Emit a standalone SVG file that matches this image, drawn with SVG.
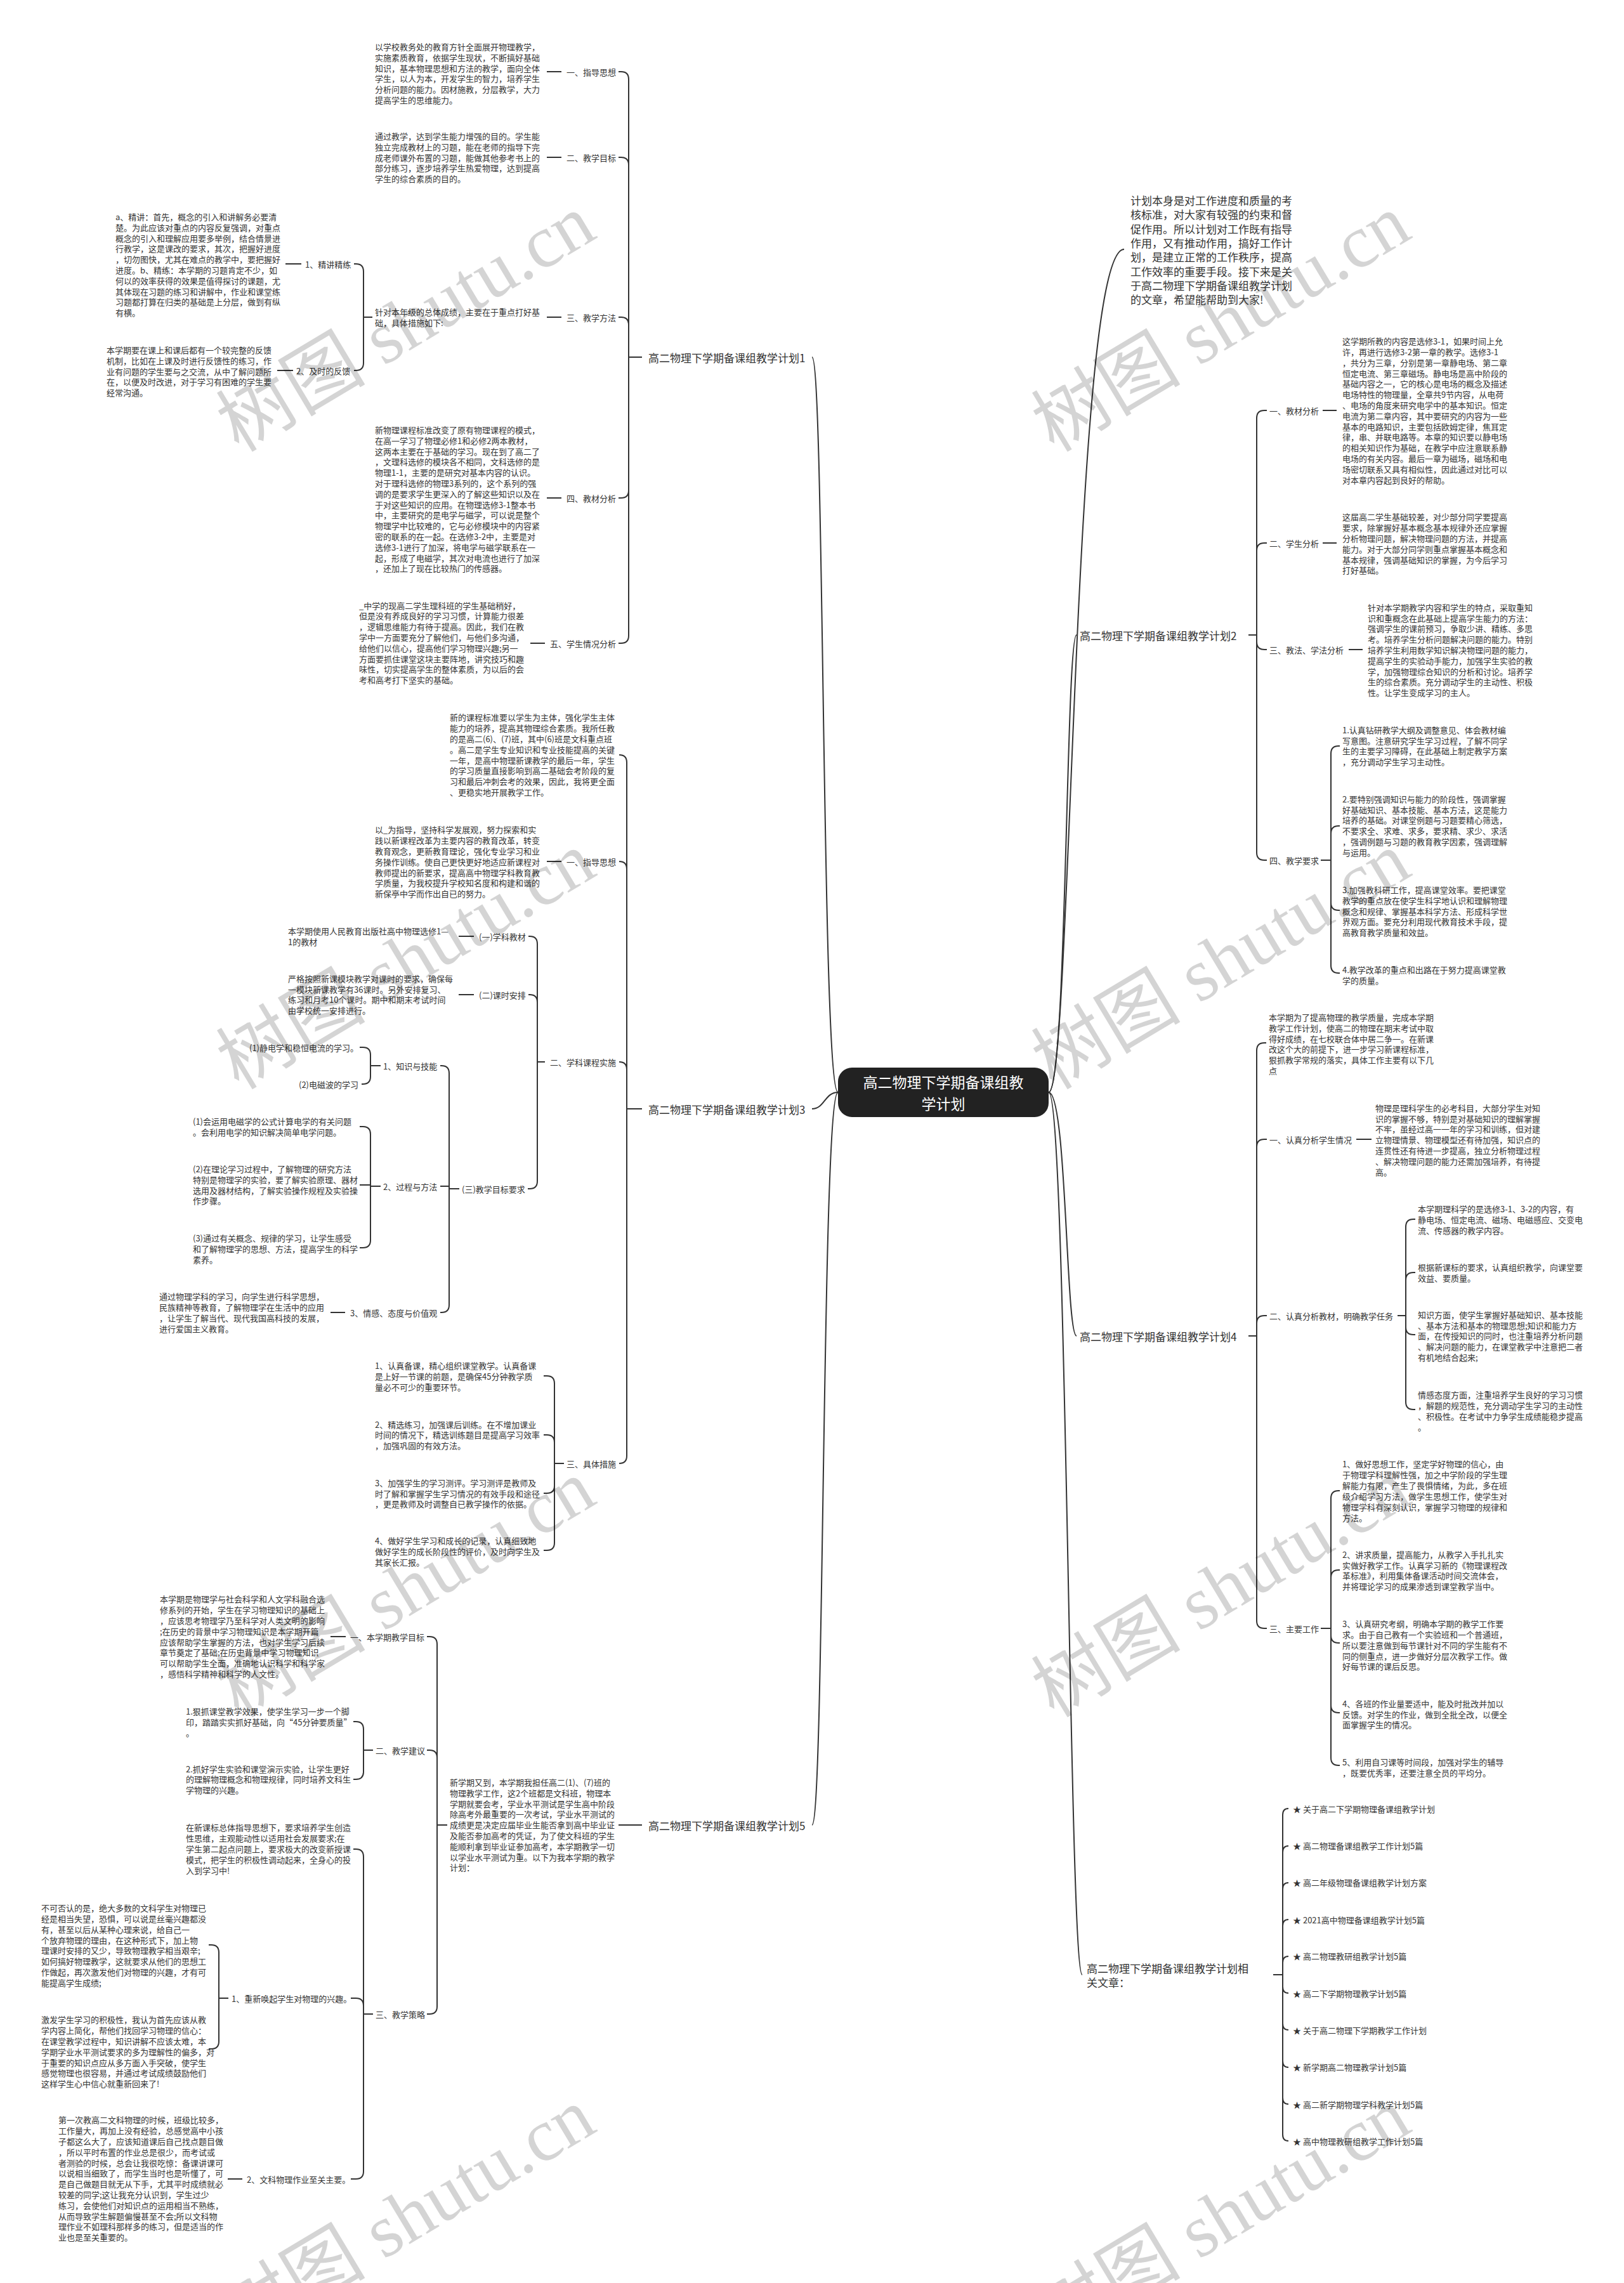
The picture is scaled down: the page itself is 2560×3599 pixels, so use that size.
<svg xmlns="http://www.w3.org/2000/svg" width="2560" height="3599" viewBox="0 0 2560 3599">
<style>
text{font-family:"Noto Sans CJK SC","Noto Sans",sans-serif;font-size:13px;fill:#333;dominant-baseline:central}
.l1{font-size:17px}
.ct{font-size:23px;fill:#fff;text-anchor:middle}
.ln{fill:none;stroke:#333;stroke-width:2}
.wm text{font-family:"Liberation Serif","Noto Sans CJK SC",serif;font-size:118px;fill:#000;fill-opacity:.17;text-anchor:middle}
</style>
<rect width="2560" height="3599" fill="#fff"/>
<g id="connectors" class="ln">
<path d="M1321,1722 C1295,1722 1300,563 1280,563"/>
<path d="M1321,1722 C1300,1722 1300,1748 1280,1748"/>
<path d="M1321,1722 C1295,1722 1300,2877 1280,2877"/>
<path d="M1653,1722 C1690,1722 1690,393 1772,393"/>
<path d="M1653,1722 C1682,1722 1680,1001 1697,1001"/>
<path d="M1653,1722 C1682,1722 1680,2106 1697,2106"/>
<path d="M1653,1722 C1682,1722 1685,3113 1706,3113"/>
<path d="M991,563 H1012"/>
<path d="M991,563 V125 Q991,113 979,113 H975"/>
<path d="M991,563 V260 Q991,248 979,248 H975"/>
<path d="M991,563 V512 Q991,500 979,500 H975"/>
<path d="M991,563 V773 Q991,785 979,785 H975"/>
<path d="M991,563 V1002 Q991,1014 979,1014 H975"/>
<path d="M862,113 H885 M862,248 H885 M862,500 H885 M862,785 H885 M836,1014 H859"/>
<path d="M587,500 H573 M573,500 V428 Q573,416 561,416 H558 M573,500 V572 Q573,584 561,584 H558"/>
<path d="M450,416 H475 M437,584 H462"/>
<path d="M988,1748 H1012"/>
<path d="M988,1748 V1202 Q988,1190 976,1190"/>
<path d="M988,1748 V1370 Q988,1358 976,1358"/>
<path d="M988,1748 V1686 Q988,1674 976,1674"/>
<path d="M988,1748 V2295 Q988,2307 976,2307"/>
<path d="M862,1358 H885"/>
<path d="M859,1674 H847 M847,1674 V1488 Q847,1476 835,1476 H833 M847,1674 V1580 Q847,1568 835,1568 H833 M847,1674 V1862 Q847,1874 835,1874 H832"/>
<path d="M723,1476 H747 M723,1568 H747"/>
<path d="M724,1874 H708 M708,1874 V1692 Q708,1680 696,1680 H694 M708,1870 H694 M708,1874 V2057 Q708,2069 696,2069 H694"/>
<path d="M600,1680 H584 M584,1680 V1663 Q584,1651 572,1651 H567 M584,1680 V1697 Q584,1709 572,1709 H570"/>
<path d="M600,1870 H584 M584,1870 V1788 Q584,1776 572,1776 H567 M584,1868 H567 M584,1870 V1955 Q584,1967 572,1967 H567"/>
<path d="M521,2069 H544"/>
<path d="M889,2307 H874 M874,2307 V2181 Q874,2169 862,2169 H857 M874,2307 V2274 Q874,2262 862,2262 H857 M874,2307 V2342 Q874,2354 862,2354 H857 M874,2307 V2432 Q874,2444 862,2444 H857"/>
<path d="M975,2877 H1012"/>
<path d="M705,2877 H689 M689,2877 V2592 Q689,2580 677,2580 H673 M689,2877 V2771 Q689,2759 677,2759 H673 M689,2877 V3163 Q689,3175 677,3175 H673"/>
<path d="M521,2580 H545"/>
<path d="M588,2759 H573 M573,2759 V2726 Q573,2714 561,2714 H557 M573,2759 V2793 Q573,2805 561,2805 H557"/>
<path d="M588,3175 H573 M573,3175 V2927 Q573,2915 561,2915 H557 M573,3175 V3162 Q573,3150 561,3150 H553 M573,3175 V3423 Q573,3435 561,3435 H553"/>
<path d="M360,3150 H345 M345,3150 V3078 Q345,3066 333,3066 H329 M345,3150 V3218 Q345,3230 333,3230 H329"/>
<path d="M359,3435 H382"/>
<path d="M1968,1001 H1981"/>
<path d="M1981,1001 V659 Q1981,647 1993,647 H1997"/>
<path d="M1981,1001 V868 Q1981,856 1993,856 H1997"/>
<path d="M1981,1001 V1012 Q1981,1024 1993,1024 H1997"/>
<path d="M1981,1001 V1344 Q1981,1356 1993,1356 H1997"/>
<path d="M2085,647 H2107 M2085,856 H2107 M2126,1024 H2148"/>
<path d="M2082,1356 H2098 M2098,1356 V1188 Q2098,1176 2110,1176 H2112 M2098,1356 V1314 Q2098,1302 2110,1302 H2112 M2098,1356 V1423 Q2098,1435 2110,1435 H2112 M2098,1356 V1522 Q2098,1534 2110,1534 H2112"/>
<path d="M1968,2106 H1981"/>
<path d="M1981,2106 V1656 Q1981,1644 1993,1644 H1996"/>
<path d="M1981,2106 V1808 Q1981,1796 1993,1796 H1997"/>
<path d="M1981,2106 V2086 Q1981,2074 1993,2074 H1997"/>
<path d="M1981,2106 V2555 Q1981,2567 1993,2567 H1997"/>
<path d="M2138,1796 H2162"/>
<path d="M2203,2074 H2216 M2216,2074 V1934 Q2216,1922 2228,1922 H2231 M2216,2074 V2018 Q2216,2006 2228,2006 H2231 M2216,2074 V2092 Q2216,2104 2228,2104 H2231 M2216,2074 V2210 Q2216,2222 2228,2222 H2231"/>
<path d="M2082,2567 H2098 M2098,2567 V2362 Q2098,2350 2110,2350 H2112 M2098,2567 V2487 Q2098,2475 2110,2475 H2112 M2098,2567 V2578 Q2098,2590 2110,2590 H2112 M2098,2567 V2688 Q2098,2700 2110,2700 H2112 M2098,2567 V2771 Q2098,2783 2110,2783 H2112"/>
<path d="M2007,3113 H2022"/>
<path d="M2022,3113 V2861 Q2022,2851 2031,2851 M2022,3113 V2920 Q2022,2910 2031,2910 M2022,3113 V2978 Q2022,2968 2031,2968 M2022,3113 V3036 Q2022,3026 2031,3026 M2022,3113 V3094 Q2022,3084 2031,3084 M2022,3113 V3132 Q2022,3142 2031,3142 M2022,3113 V3190 Q2022,3200 2031,3200 M2022,3113 V3249 Q2022,3259 2031,3259 M2022,3113 V3307 Q2022,3317 2031,3317 M2022,3113 V3365 Q2022,3375 2031,3375"/>
</g>
<g id="center"><rect x="1321" y="1683" width="332" height="78" rx="22" fill="#222"/>
<text class="ct" x="1487" y="1705">高二物理下学期备课组教</text><text class="ct" x="1487" y="1739">学计划</text></g>
<g id="plan1"><text class="l1" x="1022" y="563">高二物理下学期备课组教学计划1</text></g>
<g id="p1-1"><text x="893" y="113">一、指导思想</text></g>
<g id="p1-1t"><text x="591" y="73"><tspan x="591">以学校教务处的教育方针全面展开物理教学，</tspan><tspan x="591" dy="16.8">实施素质教育，依据学生现状，不断搞好基础</tspan><tspan x="591" dy="16.8">知识，基本物理思想和方法的教学，面向全体</tspan><tspan x="591" dy="16.8">学生，以人为本，开发学生的智力，培养学生</tspan><tspan x="591" dy="16.8">分析问题的能力。因材施教，分层教学，大力</tspan><tspan x="591" dy="16.8">提高学生的思维能力。</tspan></text></g>
<g id="p1-2"><text x="893" y="248">二、教学目标</text></g>
<g id="p1-2t"><text x="591" y="214"><tspan x="591">通过教学，达到学生能力增强的目的。学生能</tspan><tspan x="591" dy="16.8">独立完成教材上的习题，能在老师的指导下完</tspan><tspan x="591" dy="16.8">成老师课外布置的习题，能做其他参考书上的</tspan><tspan x="591" dy="16.8">部分练习，逐步培养学生热爱物理，达到提高</tspan><tspan x="591" dy="16.8">学生的综合素质的目的。</tspan></text></g>
<g id="p1-3"><text x="893" y="500">三、教学方法</text></g>
<g id="p1-3t"><text x="591" y="491"><tspan x="591">针对本年级的总体成绩，主要在于重点打好基</tspan><tspan x="591" dy="16.8">础，具体措施如下:</tspan></text></g>
<g id="p1-3a"><text x="481" y="416">1、精讲精练</text></g>
<g id="p1-3at"><text x="182" y="341"><tspan x="182">a、精讲：首先，概念的引入和讲解务必要清</tspan><tspan x="182" dy="16.8">楚。为此应该对重点的内容反复强调，对重点</tspan><tspan x="182" dy="16.8">概念的引入和理解应用要多举例，结合情景进</tspan><tspan x="182" dy="16.8">行教学，这是课改的要求，其次，把握好进度</tspan><tspan x="182" dy="16.8">，切勿图快，尤其在难点的教学中，要把握好</tspan><tspan x="182" dy="16.8">进度。b、精练：本学期的习题肯定不少，如</tspan><tspan x="182" dy="16.8">何以的效率获得的效果是值得探讨的课题，尤</tspan><tspan x="182" dy="16.8">其体现在习题的练习和讲解中，作业和课堂练</tspan><tspan x="182" dy="16.8">习题都打算在归类的基础是上分层，做到有纵</tspan><tspan x="182" dy="16.8">有横。</tspan></text></g>
<g id="p1-3b"><text x="467" y="584">2、及时的反馈</text></g>
<g id="p1-3bt"><text x="168" y="551"><tspan x="168">本学期要在课上和课后都有一个较完整的反馈</tspan><tspan x="168" dy="16.8">机制，比如在上课及时进行反馈性的练习，作</tspan><tspan x="168" dy="16.8">业有问题的学生要与之交流，从中了解问题所</tspan><tspan x="168" dy="16.8">在，以便及时改进，对于学习有困难的学生要</tspan><tspan x="168" dy="16.8">经常沟通。</tspan></text></g>
<g id="p1-4"><text x="893" y="785">四、教材分析</text></g>
<g id="p1-4t"><text x="591" y="677"><tspan x="591">新物理课程标准改变了原有物理课程的模式，</tspan><tspan x="591" dy="16.8">在高一学习了物理必修1和必修2两本教材，</tspan><tspan x="591" dy="16.8">这两本主要在于基础的学习。现在到了高二了</tspan><tspan x="591" dy="16.8">，文理科选修的模块各不相同，文科选修的是</tspan><tspan x="591" dy="16.8">物理1-1，主要的是研究对基本内容的认识。</tspan><tspan x="591" dy="16.8">对于理科选修的物理3系列的，这个系列的强</tspan><tspan x="591" dy="16.8">调的是要求学生更深入的了解这些知识以及在</tspan><tspan x="591" dy="16.8">于对这些知识的应用。在物理选修3-1整本书</tspan><tspan x="591" dy="16.8">中，主要研究的是电学与磁学，可以说是整个</tspan><tspan x="591" dy="16.8">物理学中比较难的，它与必修模块中的内容紧</tspan><tspan x="591" dy="16.8">密的联系的在一起。在选修3-2中，主要是对</tspan><tspan x="591" dy="16.8">选修3-1进行了加深，将电学与磁学联系在一</tspan><tspan x="591" dy="16.8">起，形成了电磁学，其次对电流也进行了加深</tspan><tspan x="591" dy="16.8">，还加上了现在比较热门的传感器。</tspan></text></g>
<g id="p1-5"><text x="867" y="1014">五、学生情况分析</text></g>
<g id="p1-5t"><text x="566" y="953.5"><tspan x="566">_中学的现高二学生理科班的学生基础稍好，</tspan><tspan x="566" dy="16.8">但是没有养成良好的学习习惯，计算能力很差</tspan><tspan x="566" dy="16.8">，逻辑思维能力有待于提高。因此，我们在教</tspan><tspan x="566" dy="16.8">学中一方面要充分了解他们，与他们多沟通，</tspan><tspan x="566" dy="16.8">给他们以信心，提高他们学习物理兴趣;另一</tspan><tspan x="566" dy="16.8">方面要抓住课堂这块主要阵地，讲究技巧和趣</tspan><tspan x="566" dy="16.8">味性，切实提高学生的整体素质，为以后的会</tspan><tspan x="566" dy="16.8">考和高考打下坚实的基础。</tspan></text></g>
<g id="plan3"><text class="l1" x="1022" y="1748">高二物理下学期备课组教学计划3</text></g>
<g id="p3-0"><text x="709" y="1130.4"><tspan x="709">新的课程标准要以学生为主体，强化学生主体</tspan><tspan x="709" dy="16.8">能力的培养，提高其物理综合素质。我所任教</tspan><tspan x="709" dy="16.8">的是高二(6)、(7)班，其中(6)班是文科重点班</tspan><tspan x="709" dy="16.8">。高二是学生专业知识和专业技能提高的关键</tspan><tspan x="709" dy="16.8">一年，是高中物理新课教学的最后一年，学生</tspan><tspan x="709" dy="16.8">的学习质量直接影响到高二基础会考阶段的复</tspan><tspan x="709" dy="16.8">习和最后冲刺会考的效果，因此，我将更全面</tspan><tspan x="709" dy="16.8">、更稳实地开展教学工作。</tspan></text></g>
<g id="p3-1"><text x="893" y="1358">一、指导思想</text></g>
<g id="p3-1t"><text x="591" y="1307.3"><tspan x="591">以_为指导，坚持科学发展观，努力探索和实</tspan><tspan x="591" dy="16.8">践以新课程改革为主要内容的教育改革，转变</tspan><tspan x="591" dy="16.8">教育观念，更新教育理论，强化专业学习和业</tspan><tspan x="591" dy="16.8">务操作训练。使自己更快更好地适应新课程对</tspan><tspan x="591" dy="16.8">教师提出的新要求，提高高中物理学科教育教</tspan><tspan x="591" dy="16.8">学质量，为我校提升学校知名度和构建和谐的</tspan><tspan x="591" dy="16.8">新保亭中学而作出自已的努力。</tspan></text></g>
<g id="p3-2"><text x="867" y="1674">二、学科课程实施</text></g>
<g id="p3-2a"><text x="755" y="1476">(一)学科教材</text></g>
<g id="p3-2at"><text x="454" y="1467.2"><tspan x="454">本学期使用人民教育出版社高中物理选修1—</tspan><tspan x="454" dy="16.8">1的教材</tspan></text></g>
<g id="p3-2b"><text x="755" y="1568">(二)课时安排</text></g>
<g id="p3-2bt"><text x="454" y="1541.7"><tspan x="454">严格按照新课模块教学对课时的要求，确保每</tspan><tspan x="454" dy="16.8">一模块新课教学有36课时。另外安排复习、</tspan><tspan x="454" dy="16.8">练习和月考10个课时。期中和期末考试时间</tspan><tspan x="454" dy="16.8">由学校统一安排进行。</tspan></text></g>
<g id="p3-2c"><text x="728" y="1874">(三)教学目标要求</text></g>
<g id="p3-2c1"><text x="604" y="1680">1、知识与技能</text></g>
<g id="p3-2c1a"><text x="393" y="1651.5">(1)静电学和稳恒电流的学习。</text></g>
<g id="p3-2c1b"><text x="471" y="1709">(2)电磁波的学习</text></g>
<g id="p3-2c2"><text x="604" y="1870">2、过程与方法</text></g>
<g id="p3-2c2a"><text x="304" y="1767.4"><tspan x="304">(1)会运用电磁学的公式计算电学的有关问题</tspan><tspan x="304" dy="16.8">。会利用电学的知识解决简单电学问题。</tspan></text></g>
<g id="p3-2c2b"><text x="304" y="1842"><tspan x="304">(2)在理论学习过程中，了解物理的研究方法</tspan><tspan x="304" dy="16.8">特别是物理学的实验，要了解实验原理、器材</tspan><tspan x="304" dy="16.8">选用及器材结构，了解实验操作规程及实验操</tspan><tspan x="304" dy="16.8">作步骤。</tspan></text></g>
<g id="p3-2c2c"><text x="304" y="1951"><tspan x="304">(3)通过有关概念、规律的学习，让学生感受</tspan><tspan x="304" dy="16.8">和了解物理学的思想、方法，提高学生的科学</tspan><tspan x="304" dy="16.8">素养。</tspan></text></g>
<g id="p3-2c3"><text x="552" y="2069">3、情感、态度与价值观</text></g>
<g id="p3-2c3t"><text x="251" y="2043.3"><tspan x="251">通过物理学科的学习，向学生进行科学思想，</tspan><tspan x="251" dy="16.8">民族精神等教育，了解物理学在生活中的应用</tspan><tspan x="251" dy="16.8">，让学生了解当代、现代我国高科技的发展，</tspan><tspan x="251" dy="16.8">进行爱国主义教育。</tspan></text></g>
<g id="p3-3"><text x="893" y="2307">三、具体措施</text></g>
<g id="p3-3a"><text x="591" y="2152.4"><tspan x="591">1、认真备课，精心组织课堂教学。认真备课</tspan><tspan x="591" dy="16.8">是上好一节课的前题，是确保45分钟教学质</tspan><tspan x="591" dy="16.8">量必不可少的重要环节。</tspan></text></g>
<g id="p3-3b"><text x="591" y="2244.5"><tspan x="591">2、精选练习，加强课后训练。在不增加课业</tspan><tspan x="591" dy="16.8">时间的情况下，精选训练题目是提高学习效率</tspan><tspan x="591" dy="16.8">，加强巩固的有效方法。</tspan></text></g>
<g id="p3-3c"><text x="591" y="2336.7"><tspan x="591">3、加强学生的学习测评。学习测评是教师及</tspan><tspan x="591" dy="16.8">时了解和掌握学生学习情况的有效手段和途径</tspan><tspan x="591" dy="16.8">，更是教师及时调整自已教学操作的依据。</tspan></text></g>
<g id="p3-3d"><text x="591" y="2428.2"><tspan x="591">4、做好学生学习和成长的记录，认真细致地</tspan><tspan x="591" dy="16.8">做好学生的成长阶段性的评价，及时向学生及</tspan><tspan x="591" dy="16.8">其家长汇报。</tspan></text></g>
<g id="plan5"><text class="l1" x="1022" y="2877">高二物理下学期备课组教学计划5</text></g>
<g id="p5-0"><text x="709" y="2809"><tspan x="709">新学期又到，本学期我担任高二(1)、(7)班的</tspan><tspan x="709" dy="16.8">物理教学工作，这2个班都是文科班，物理本</tspan><tspan x="709" dy="16.8">学期就要会考，学业水平测试是学生高中阶段</tspan><tspan x="709" dy="16.8">除高考外最重要的一次考试，学业水平测试的</tspan><tspan x="709" dy="16.8">成绩更是决定应届毕业生能否拿到高中毕业证</tspan><tspan x="709" dy="16.8">及能否参加高考的凭证，为了使文科班的学生</tspan><tspan x="709" dy="16.8">能顺利拿到毕业证参加高考，本学期教学一切</tspan><tspan x="709" dy="16.8">以学业水平测试为重。以下为我本学期的教学</tspan><tspan x="709" dy="16.8">计划：</tspan></text></g>
<g id="p5-1"><text x="552" y="2580">一、本学期教学目标</text></g>
<g id="p5-1t"><text x="252" y="2520.4"><tspan x="252">本学期是物理学与社会科学和人文学科融合选</tspan><tspan x="252" dy="16.8">修系列的开始，学生在学习物理知识的基础上</tspan><tspan x="252" dy="16.8">，应该思考物理学乃至科学对人类文明的影响</tspan><tspan x="252" dy="16.8">;在历史的背景中学习物理知识是本学期开篇</tspan><tspan x="252" dy="16.8">应该帮助学生掌握的方法，也对学生学习后续</tspan><tspan x="252" dy="16.8">章节奠定了基础;在历史背景中学习物理知识</tspan><tspan x="252" dy="16.8">可以帮助学生全面，准确地认识科学和科学家</tspan><tspan x="252" dy="16.8">，感悟科学精神和科学的人文性。</tspan></text></g>
<g id="p5-2"><text x="592" y="2759">二、教学建议</text></g>
<g id="p5-2a"><text x="293" y="2697.2"><tspan x="293">1.狠抓课堂教学效果，使学生学习一步一个脚</tspan><tspan x="293" dy="16.8">印，踏踏实实抓好基础，向“45分钟要质量”</tspan><tspan x="293" dy="16.8">。</tspan></text></g>
<g id="p5-2b"><text x="293" y="2787.5"><tspan x="293">2.抓好学生实验和课堂演示实验，让学生更好</tspan><tspan x="293" dy="16.8">的理解物理概念和物理规律，同时培养文科生</tspan><tspan x="293" dy="16.8">学物理的兴趣。</tspan></text></g>
<g id="p5-3"><text x="592" y="3175">三、教学策略</text></g>
<g id="p5-3a"><text x="293" y="2880.4"><tspan x="293">在新课标总体指导思想下，要求培养学生创造</tspan><tspan x="293" dy="16.8">性思维，主观能动性以适用社会发展要求;在</tspan><tspan x="293" dy="16.8">学生第二起点问题上，要求极大的改变新授课</tspan><tspan x="293" dy="16.8">模式，把学生的积极性调动起来，全身心的投</tspan><tspan x="293" dy="16.8">入到学习中!</tspan></text></g>
<g id="p5-3b"><text x="365" y="3150">1、重新唤起学生对物理的兴趣。</text></g>
<g id="p5-3b1"><text x="65" y="3007.2"><tspan x="65">不可否认的是，绝大多数的文科学生对物理已</tspan><tspan x="65" dy="16.8">经是相当失望，恐惧，可以说是丝毫兴趣都没</tspan><tspan x="65" dy="16.8">有，甚至以后从某种心理来说，给自己一</tspan><tspan x="65" dy="16.8">个放弃物理的理由，在这种形式下，加上物</tspan><tspan x="65" dy="16.8">理课时安排的又少，导致物理教学相当艰辛;</tspan><tspan x="65" dy="16.8">如何搞好物理教学，这就要求从他们的思想工</tspan><tspan x="65" dy="16.8">作做起，再次激发他们对物理的兴趣，才有可</tspan><tspan x="65" dy="16.8">能提高学生成绩;</tspan></text></g>
<g id="p5-3b2"><text x="65" y="3183.3"><tspan x="65">激发学生学习的积极性，我认为首先应该从教</tspan><tspan x="65" dy="16.8">学内容上简化，帮他们找回学习物理的信心：</tspan><tspan x="65" dy="16.8">在课堂教学过程中，知识讲解不应该太难，本</tspan><tspan x="65" dy="16.8">学期学业水平测试要求的多为理解性的偏多，对</tspan><tspan x="65" dy="16.8">于重要的知识点应从多方面入手突破，使学生</tspan><tspan x="65" dy="16.8">感觉物理也很容易，并通过考试成绩鼓励他们</tspan><tspan x="65" dy="16.8">这样学生心中信心就重新回来了!</tspan></text></g>
<g id="p5-3c"><text x="389" y="3435">2、文科物理作业至关主要。</text></g>
<g id="p5-3ct"><text x="92" y="3341.3"><tspan x="92">第一次教高二文科物理的时候，班级比较多，</tspan><tspan x="92" dy="16.8">工作量大，再加上没有经验，总感觉高中小孩</tspan><tspan x="92" dy="16.8">子都这么大了，应该知道课后自己找点题目做</tspan><tspan x="92" dy="16.8">，所以平时布置的作业总是很少，而考试或</tspan><tspan x="92" dy="16.8">者测验的时候，总会让我很吃惊：备课讲课可</tspan><tspan x="92" dy="16.8">以说相当细致了，而学生当时也是听懂了，可</tspan><tspan x="92" dy="16.8">是自己做题目就无从下手，尤其平时成绩就必</tspan><tspan x="92" dy="16.8">较差的同学;这让我充分认识到，学生过少</tspan><tspan x="92" dy="16.8">练习，会使他们对知识点的运用相当不熟练，</tspan><tspan x="92" dy="16.8">从而导致学生解题偏慢甚至不会;所以文科物</tspan><tspan x="92" dy="16.8">理作业不如理科那样多的练习，但是适当的作</tspan><tspan x="92" dy="16.8">业也是至关重要的。</tspan></text></g>
<g id="intro"><text class="l1" x="1782" y="315"><tspan x="1782">计划本身是对工作进度和质量的考</tspan><tspan x="1782" dy="22.3">核标准，对大家有较强的约束和督</tspan><tspan x="1782" dy="22.3">促作用。所以计划对工作既有指导</tspan><tspan x="1782" dy="22.3">作用，又有推动作用，搞好工作计</tspan><tspan x="1782" dy="22.3">划，是建立正常的工作秩序，提高</tspan><tspan x="1782" dy="22.3">工作效率的重要手段。接下来是关</tspan><tspan x="1782" dy="22.3">于高二物理下学期备课组教学计划</tspan><tspan x="1782" dy="22.3">的文章，希望能帮助到大家!</tspan></text></g>
<g id="plan2"><text class="l1" x="1702" y="1001">高二物理下学期备课组教学计划2</text></g>
<g id="p2-1"><text x="2001" y="647">一、教材分析</text></g>
<g id="p2-1t"><text x="2116" y="537.1"><tspan x="2116">这学期所教的内容是选修3-1，如果时间上允</tspan><tspan x="2116" dy="16.8">许，再进行选修3-2第一章的教学。选修3-1</tspan><tspan x="2116" dy="16.8">，共分为三章，分别是第一章静电场、第二章</tspan><tspan x="2116" dy="16.8">恒定电流、第三章磁场。静电场是高中阶段的</tspan><tspan x="2116" dy="16.8">基础内容之一，它的核心是电场的概念及描述</tspan><tspan x="2116" dy="16.8">电场特性的物理量，全章共9节内容，从电荷</tspan><tspan x="2116" dy="16.8">、电场的角度来研究电学中的基本知识。恒定</tspan><tspan x="2116" dy="16.8">电流为第二章内容，其中要研究的内容为一些</tspan><tspan x="2116" dy="16.8">基本的电路知识，主要包括欧姆定律，焦耳定</tspan><tspan x="2116" dy="16.8">律，串、并联电路等。本章的知识要以静电场</tspan><tspan x="2116" dy="16.8">的相关知识作为基础，在教学中应注意联系静</tspan><tspan x="2116" dy="16.8">电场的有关内容。最后一章为磁场，磁场和电</tspan><tspan x="2116" dy="16.8">场密切联系又具有相似性，因此通过对比可以</tspan><tspan x="2116" dy="16.8">对本章内容起到良好的帮助。</tspan></text></g>
<g id="p2-2"><text x="2001" y="856">二、学生分析</text></g>
<g id="p2-2t"><text x="2116" y="814.4"><tspan x="2116">这届高二学生基础较差，对少部分同学要提高</tspan><tspan x="2116" dy="16.8">要求，除掌握好基本概念基本规律外还应掌握</tspan><tspan x="2116" dy="16.8">分析物理问题，解决物理问题的方法，并提高</tspan><tspan x="2116" dy="16.8">能力。对于大部分同学则重点掌握基本概念和</tspan><tspan x="2116" dy="16.8">基本规律，强调基础知识的掌握，为今后学习</tspan><tspan x="2116" dy="16.8">打好基础。</tspan></text></g>
<g id="p2-3"><text x="2001" y="1024">三、教法、学法分析</text></g>
<g id="p2-3t"><text x="2156" y="956.7"><tspan x="2156">针对本学期教学内容和学生的特点，采取重知</tspan><tspan x="2156" dy="16.8">识和重概念在此基础上提高学生能力的方法：</tspan><tspan x="2156" dy="16.8">强调学生的课前预习，争取少讲、精练、多思</tspan><tspan x="2156" dy="16.8">考。培养学生分析问题解决问题的能力。特别</tspan><tspan x="2156" dy="16.8">培养学生利用数学知识解决物理问题的能力，</tspan><tspan x="2156" dy="16.8">提高学生的实验动手能力，加强学生实验的教</tspan><tspan x="2156" dy="16.8">学，加强物理综合知识的分析和讨论。培养学</tspan><tspan x="2156" dy="16.8">生的综合素质。充分调动学生的主动性、积极</tspan><tspan x="2156" dy="16.8">性。让学生变成学习的主人。</tspan></text></g>
<g id="p2-4"><text x="2001" y="1356">四、教学要求</text></g>
<g id="p2-4a"><text x="2116" y="1149.8"><tspan x="2116">1.认真钻研教学大纲及调整意见、体会教材编</tspan><tspan x="2116" dy="16.8">写意图。注意研究学生学习过程，了解不同学</tspan><tspan x="2116" dy="16.8">生的主要学习障碍，在此基础上制定教学方案</tspan><tspan x="2116" dy="16.8">，充分调动学生学习主动性。</tspan></text></g>
<g id="p2-4b"><text x="2116" y="1258.7"><tspan x="2116">2.要特别强调知识与能力的阶段性，强调掌握</tspan><tspan x="2116" dy="16.8">好基础知识、基本技能、基本方法，这是能力</tspan><tspan x="2116" dy="16.8">培养的基础。对课堂例题与习题要精心筛选，</tspan><tspan x="2116" dy="16.8">不要求全、求难、求多，要求精、求少、求活</tspan><tspan x="2116" dy="16.8">，强调例题与习题的教育教学因素，强调理解</tspan><tspan x="2116" dy="16.8">与运用。</tspan></text></g>
<g id="p2-4c"><text x="2116" y="1402"><tspan x="2116">3.加强教科研工作，提高课堂效率。要把课堂</tspan><tspan x="2116" dy="16.8">教学的重点放在使学生科学地认识和理解物理</tspan><tspan x="2116" dy="16.8">概念和规律、掌握基本科学方法、形成科学世</tspan><tspan x="2116" dy="16.8">界观方面。要充分利用现代教育技术手段，提</tspan><tspan x="2116" dy="16.8">高教育教学质量和效益。</tspan></text></g>
<g id="p2-4d"><text x="2116" y="1528.2"><tspan x="2116">4.教学改革的重点和出路在于努力提高课堂教</tspan><tspan x="2116" dy="16.8">学的质量。</tspan></text></g>
<g id="plan4"><text class="l1" x="1702" y="2106">高二物理下学期备课组教学计划4</text></g>
<g id="p4-0"><text x="2000" y="1602.9"><tspan x="2000">本学期为了提高物理的教学质量，完成本学期</tspan><tspan x="2000" dy="16.8">教学工作计划，使高二的物理在期末考试中取</tspan><tspan x="2000" dy="16.8">得好成绩，在七校联合体中居二争一。在新课</tspan><tspan x="2000" dy="16.8">改这个大的前提下，进一步学习新课程标准，</tspan><tspan x="2000" dy="16.8">狠抓教学常规的落实，具体工作主要有以下几</tspan><tspan x="2000" dy="16.8">点</tspan></text></g>
<g id="p4-1"><text x="2001" y="1796">一、认真分析学生情况</text></g>
<g id="p4-1t"><text x="2168" y="1745.8"><tspan x="2168">物理是理科学生的必考科目，大部分学生对知</tspan><tspan x="2168" dy="16.8">识的掌握不够，特别是对基础知识的理解掌握</tspan><tspan x="2168" dy="16.8">不牢，虽经过高一一年的学习和训练，但对建</tspan><tspan x="2168" dy="16.8">立物理情景、物理模型还有待加强，知识点的</tspan><tspan x="2168" dy="16.8">连贯性还有待进一步提高，独立分析物理过程</tspan><tspan x="2168" dy="16.8">、解决物理问题的能力还需加强培养，有待提</tspan><tspan x="2168" dy="16.8">高。</tspan></text></g>
<g id="p4-2"><text x="2001" y="2074">二、认真分析教材，明确教学任务</text></g>
<g id="p4-2a"><text x="2235" y="1905.3"><tspan x="2235">本学期理科学的是选修3-1、3-2的内容，有</tspan><tspan x="2235" dy="16.8">静电场、恒定电流、磁场、电磁感应、交变电</tspan><tspan x="2235" dy="16.8">流、传感器的教学内容。</tspan></text></g>
<g id="p4-2b"><text x="2235" y="1997.3"><tspan x="2235">根据新课标的要求，认真组织教学，向课堂要</tspan><tspan x="2235" dy="16.8">效益、要质量。</tspan></text></g>
<g id="p4-2c"><text x="2235" y="2071.7"><tspan x="2235">知识方面，使学生掌握好基础知识、基本技能</tspan><tspan x="2235" dy="16.8">、基本方法和基本的物理思想;知识和能力方</tspan><tspan x="2235" dy="16.8">面，在传授知识的同时，也注重培养分析问题</tspan><tspan x="2235" dy="16.8">、解决问题的能力，在课堂教学中注意把二者</tspan><tspan x="2235" dy="16.8">有机地结合起来;</tspan></text></g>
<g id="p4-2d"><text x="2235" y="2198.2"><tspan x="2235">情感态度方面，注重培养学生良好的学习习惯</tspan><tspan x="2235" dy="16.8">，解题的规范性，充分调动学生学习的主动性</tspan><tspan x="2235" dy="16.8">、积极性。在考试中力争学生成绩能稳步提高</tspan><tspan x="2235" dy="16.8">。</tspan></text></g>
<g id="p4-3"><text x="2001" y="2567">三、主要工作</text></g>
<g id="p4-3a"><text x="2116" y="2307"><tspan x="2116">1、做好思想工作，坚定学好物理的信心，由</tspan><tspan x="2116" dy="17">于物理学科理解性强，加之中学阶段的学生理</tspan><tspan x="2116" dy="17">解能力有限，产生了畏惧情绪，为此，多在班</tspan><tspan x="2116" dy="17">级介绍学习方法，做学生思想工作，使学生对</tspan><tspan x="2116" dy="17">物理学科有深刻认识，掌握学习物理的规律和</tspan><tspan x="2116" dy="17">方法。</tspan></text></g>
<g id="p4-3b"><text x="2116" y="2449.7"><tspan x="2116">2、讲求质量，提高能力，从教学入手扎扎实</tspan><tspan x="2116" dy="16.8">实做好教学工作。认真学习新的《物理课程改</tspan><tspan x="2116" dy="16.8">革标准》，利用集体备课活动时间交流体会，</tspan><tspan x="2116" dy="16.8">并将理论学习的成果渗透到课堂教学当中。</tspan></text></g>
<g id="p4-3c"><text x="2116" y="2559.2"><tspan x="2116">3、认真研究考纲，明确本学期的教学工作要</tspan><tspan x="2116" dy="16.8">求。由于自己教有一个实验班和一个普通班，</tspan><tspan x="2116" dy="16.8">所以要注意做到每节课针对不同的学生能有不</tspan><tspan x="2116" dy="16.8">同的侧重点，进一步做好分层次教学工作。做</tspan><tspan x="2116" dy="16.8">好每节课的课后反思。</tspan></text></g>
<g id="p4-3d"><text x="2116" y="2684.7"><tspan x="2116">4、各班的作业量要适中，能及时批改并加以</tspan><tspan x="2116" dy="16.8">反馈。对学生的作业，做到全批全改，以便全</tspan><tspan x="2116" dy="16.8">面掌握学生的情况。</tspan></text></g>
<g id="p4-3e"><text x="2116" y="2776.8"><tspan x="2116">5、利用自习课等时间段，加强对学生的辅导</tspan><tspan x="2116" dy="16.8">，既要优秀率，还要注意全员的平均分。</tspan></text></g>
<g id="related"><text class="l1" x="1713" y="3102.4"><tspan x="1713">高二物理下学期备课组教学计划相</tspan><tspan x="1713" dy="21.7">关文章：</tspan></text></g>
<g id="r1"><text x="2038" y="2851.5">★ 关于高二下学期物理备课组教学计划</text></g>
<g id="r2"><text x="2038" y="2909.7">★ 高二物理备课组教学工作计划5篇</text></g>
<g id="r3"><text x="2038" y="2967.9">★ 高二年级物理备课组教学计划方案</text></g>
<g id="r4"><text x="2038" y="3026">★ 2021高中物理备课组教学计划5篇</text></g>
<g id="r5"><text x="2038" y="3083.9">★ 高二物理教研组教学计划5篇</text></g>
<g id="r6"><text x="2038" y="3142">★ 高二下学期物理教学计划5篇</text></g>
<g id="r7"><text x="2038" y="3200.5">★ 关于高二物理下学期教学工作计划</text></g>
<g id="r8"><text x="2038" y="3258.6">★ 新学期高二物理教学计划5篇</text></g>
<g id="r9"><text x="2038" y="3317.1">★ 高二新学期物理学科教学计划5篇</text></g>
<g id="r10"><text x="2038" y="3375.3">★ 高中物理教研组教学工作计划5篇</text></g>
<g class="wm">
<text transform="translate(640,510) rotate(-31)">树图 shutu.cn</text>
<text transform="translate(640,1515) rotate(-31)">树图 shutu.cn</text>
<text transform="translate(640,2505) rotate(-31)">树图 shutu.cn</text>
<text transform="translate(640,3495) rotate(-31)">树图 shutu.cn</text>
<text transform="translate(1925,510) rotate(-31)">树图 shutu.cn</text>
<text transform="translate(1925,1515) rotate(-31)">树图 shutu.cn</text>
<text transform="translate(1925,2505) rotate(-31)">树图 shutu.cn</text>
<text transform="translate(1925,3495) rotate(-31)">树图 shutu.cn</text>
</g>
</svg>
